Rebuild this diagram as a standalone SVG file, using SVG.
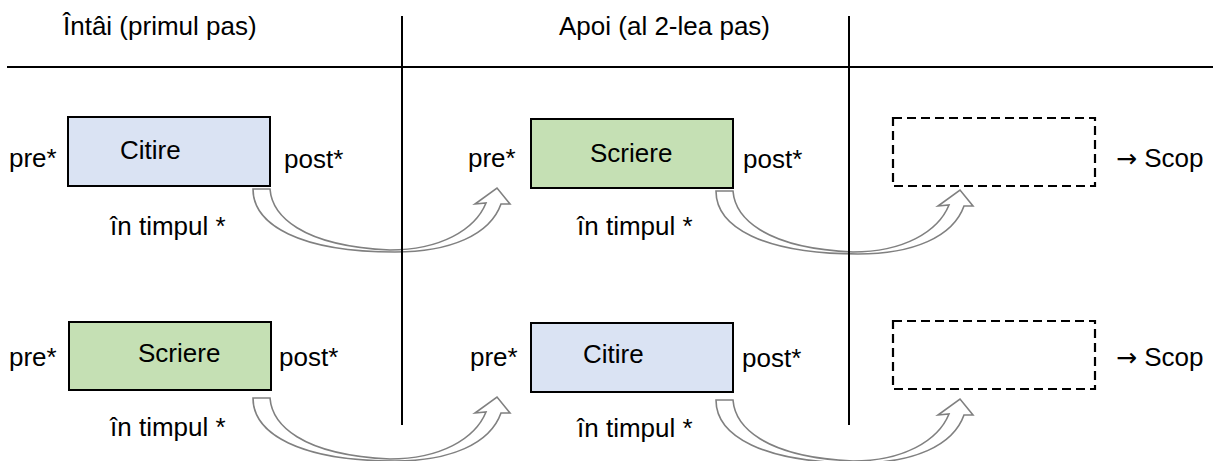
<svg xmlns="http://www.w3.org/2000/svg" xmlns:xlink="http://www.w3.org/1999/xlink" width="1213" height="461" viewBox="0 0 1213 461">
<style>
text{font-family:"Liberation Sans",Arial,sans-serif;font-size:26px;fill:#000}
.arr{font-family:"DejaVu Sans",sans-serif;font-size:25px}
.blue{fill:#DAE3F3;stroke:#000;stroke-width:2}
.green{fill:#C5E0B4;stroke:#000;stroke-width:2}
.dash{fill:none;stroke:#000;stroke-width:2.2;stroke-dasharray:9 5}
.rule{stroke:#000;stroke-width:2}
.carrow{fill:#fff;stroke:#808080;stroke-width:1.6;stroke-linejoin:miter}
</style>
<defs>
<path id="curved" class="carrow" d="M253,189 L270,189 C272,215 300,246 390,250 C440,250 475,230 486,203 L475,204 L497,188 L510,204 L501,204 C490,235 450,252 395,252 C300,252 253,225 253,189 Z"/>
</defs>
<g id="connectors">
<use xlink:href="#curved"/>
<use xlink:href="#curved" transform="translate(463,2)"/>
<use xlink:href="#curved" transform="translate(0,209)"/>
<use xlink:href="#curved" transform="translate(463,211)"/>
</g>
<g id="grid">
<line class="rule" x1="7" y1="67" x2="1213" y2="67"/>
<line class="rule" x1="402" y1="16" x2="402" y2="425"/>
<line class="rule" x1="849" y1="16" x2="849" y2="425"/>
<text x="63" y="35">Întâi (primul pas)</text>
<text x="559" y="35">Apoi (al 2-lea pas)</text>
</g>
<g id="n1">
<text x="9" y="167">pre*</text>
<rect class="blue" x="68" y="117" width="202" height="69"/>
<text x="120" y="159">Citire</text>
<text x="284" y="168">post*</text>
<text x="110" y="235">în timpul *</text>
</g>
<g id="n2">
<text x="468" y="167">pre*</text>
<rect class="green" x="531" y="119" width="202" height="69"/>
<text x="590" y="162">Scriere</text>
<text x="743" y="168">post*</text>
<text x="577" y="235">în timpul *</text>
</g>
<g id="n3">
<rect class="dash" x="893" y="118" width="202" height="68"/>
<text x="1116" y="167"><tspan class="arr">→</tspan> Scop</text>
</g>
<g id="n4">
<text x="9" y="366">pre*</text>
<rect class="green" x="69" y="322" width="202" height="68"/>
<text x="138" y="362">Scriere</text>
<text x="279" y="366">post*</text>
<text x="110" y="436">în timpul *</text>
</g>
<g id="n5">
<text x="470" y="366">pre*</text>
<rect class="blue" x="531" y="323" width="202" height="69"/>
<text x="583" y="363">Citire</text>
<text x="742" y="367">post*</text>
<text x="577" y="437">în timpul *</text>
</g>
<g id="n6">
<rect class="dash" x="893" y="321" width="202" height="68"/>
<text x="1116" y="366"><tspan class="arr">→</tspan> Scop</text>
</g>
</svg>
